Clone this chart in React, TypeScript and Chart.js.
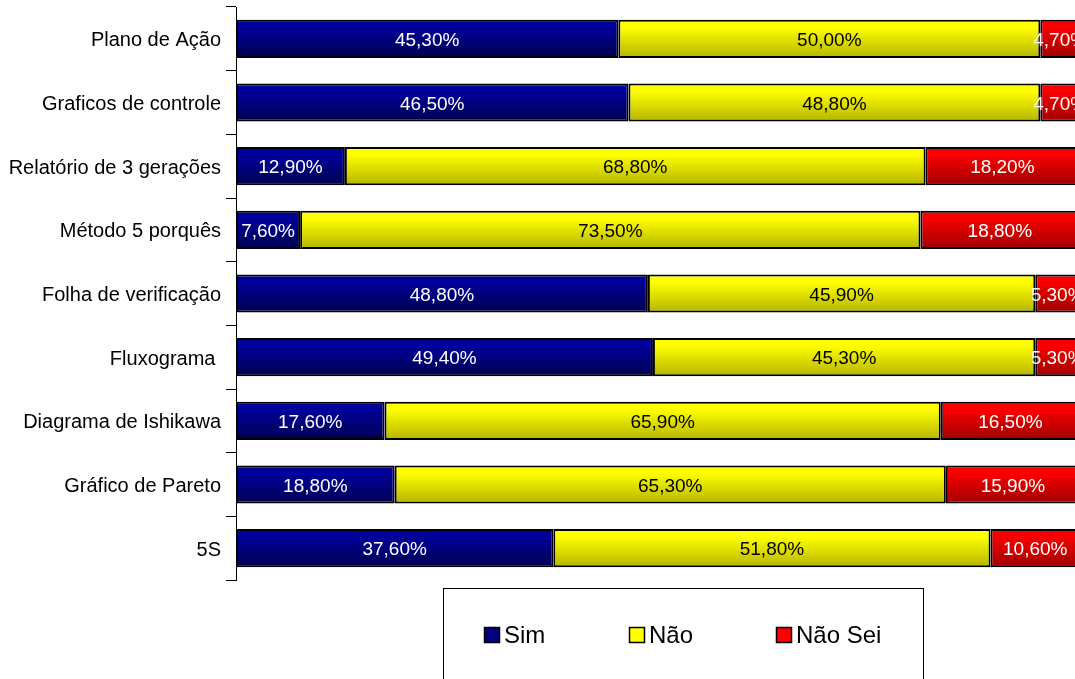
import React, { useEffect, useRef } from "react";
import { Chart, registerables } from "chart.js";

Chart.register(...registerables);

const categories = [
  "Plano de Ação",
  "Graficos de controle",
  "Relatório de 3 gerações",
  "Método 5 porquês",
  "Folha de verificação",
  "Fluxograma ",
  "Diagrama de Ishikawa",
  "Gráfico de Pareto",
  "5S",
];
const simValues = [45.3, 46.5, 12.9, 7.6, 48.8, 49.4, 17.6, 18.8, 37.6];
const naoValues = [50.0, 48.8, 68.8, 73.5, 45.9, 45.3, 65.9, 65.3, 51.8];
const naoSeiValues = [4.7, 4.7, 18.2, 18.8, 5.3, 5.3, 16.5, 15.9, 10.6];
const seriesNames = ["Sim", "Não", "Não Sei"];

const FONT = "'Liberation Sans', Arial, sans-serif";
const BAR_PCT = 0.6;

const solid = ["#000080", "#FFFF00", "#FF0000"];
const gradTop = ["#00009A", "#FFFF00", "#F80000"];
const gradBottom = ["#000050", "#B4B400", "#A00000"];
const labelColors = ["#FFFFFF", "#000000", "#FFFFFF"];

const makeGrad = (i: number) => (c: any) => {
  const chart = c.chart;
  const ys = chart.scales && chart.scales.y;
  if (!ys || !ys.height || c.type !== "data") return solid[i];
  const center = ys.getPixelForValue(c.dataIndex);
  const half = (ys.height / categories.length) * BAR_PCT / 2;
  const g = chart.ctx.createLinearGradient(0, center - half, 0, center + half);
  g.addColorStop(0, gradTop[i]);
  g.addColorStop(0.2, gradTop[i]);
  g.addColorStop(1, gradBottom[i]);
  return g;
};

const fmt = (v: number) => v.toFixed(2).replace(".", ",") + "%";

const labelPlugin = {
  id: "barLabels",
  afterDatasetsDraw(chart: any) {
    const ctx = chart.ctx;
    ctx.save();
    ctx.font = `19px ${FONT}`;
    ctx.textAlign = "center";
    ctx.textBaseline = "middle";
    chart.data.datasets.forEach((ds: any, di: number) => {
      const meta = chart.getDatasetMeta(di);
      ctx.fillStyle = labelColors[di];
      meta.data.forEach((el: any, i: number) => {
        const p = el.getProps(["x", "base", "y"], true);
        ctx.fillText(fmt(ds.data[i]), (p.x + p.base) / 2, p.y + 2);
      });
    });
    ctx.restore();
  },
};

const legendPlugin = {
  id: "boxLegend",
  afterDraw(chart: any) {
    const ctx = chart.ctx;
    ctx.save();
    ctx.strokeStyle = "#000";
    ctx.lineWidth = 1;
    ctx.strokeRect(443.5, 588.5, 480, 120);
    const xs = [484, 629, 776];
    ctx.font = `24px ${FONT}`;
    ctx.textBaseline = "middle";
    ctx.textAlign = "left";
    seriesNames.forEach((name, i) => {
      ctx.fillStyle = solid[i];
      ctx.fillRect(xs[i], 627, 16, 16);
      ctx.strokeStyle = "#000";
      ctx.lineWidth = 1.5;
      ctx.strokeRect(xs[i] + 0.5, 627.5, 15, 15);
      ctx.fillStyle = "#000";
      ctx.fillText(name, xs[i] + 20, 636);
    });
    ctx.restore();
  },
};

export default function App() {
  const ref = useRef<HTMLCanvasElement>(null);
  useEffect(() => {
    document.body.style.margin = "0";
    document.body.style.overflow = "hidden";
    const values = [simValues, naoValues, naoSeiValues];
    const chart = new Chart(ref.current!, {
      type: "bar",
      data: {
        labels: categories,
        datasets: seriesNames.map((name, i) => ({
          label: name,
          data: values[i],
          backgroundColor: makeGrad(i),
          borderColor: "#000000",
          borderWidth: 2,
          borderSkipped: false,
          barPercentage: BAR_PCT,
          categoryPercentage: 1,
        })),
      },
      options: {
        indexAxis: "y",
        responsive: false,
        animation: false,
        layout: { padding: { top: 7, right: 5, bottom: 99, left: 0 } },
        plugins: { legend: { display: false }, tooltip: { enabled: false } },
        scales: {
          x: { stacked: true, min: 0, max: 100, display: false },
          y: {
            stacked: true,
            afterFit: (s: any) => {
              s.width = 236;
              s.paddingTop = 0;
              s.paddingBottom = 0;
            },
            border: { display: true, color: "#000", width: 1 },
            grid: {
              drawOnChartArea: false,
              drawTicks: true,
              tickLength: 10,
              color: "#000",
              offset: true,
            },
            ticks: {
              color: "#000",
              padding: 5,
              labelOffset: 2,
              font: { family: FONT, size: 20 },
            },
          },
        },
      },
      plugins: [labelPlugin, legendPlugin],
    } as any);
    return () => chart.destroy();
  }, []);
  return (
    <div style={{ position: "fixed", left: 0, top: 0, width: 1075, height: 679, overflow: "hidden", background: "#fff" }}>
      <canvas ref={ref} width={1085} height={679} style={{ display: "block" }} />
    </div>
  );
}
